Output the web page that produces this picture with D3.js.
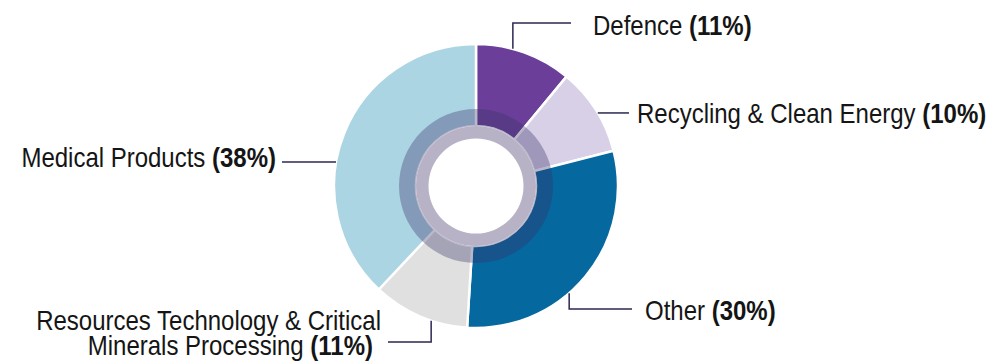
<!DOCTYPE html>
<html>
<head>
<meta charset="utf-8">
<script src="https://cdn.jsdelivr.net/npm/d3@7"></script>
<style>
  html, body { margin: 0; padding: 0; background: #ffffff; }
  svg { display: block; }
  text { font-family: "Liberation Sans", Arial, sans-serif; fill: #151515; }
</style>
</head>
<body>
<svg id="chart" width="998" height="362"></svg>
<script>
// ---- data ----
const categories = ["Defence", "Recycling & Clean Energy", "Other", "Resources Technology & Critical Minerals Processing", "Medical Products"];
const values = [11, 10, 30, 11, 38];
const colors = ["#6b3f99", "#d8d0e7", "#05689f", "#e0e0e0", "#acd5e4"];

// label text lines (name parts) per category
const labelLines = [
  ["Defence"],
  ["Recycling & Clean Energy"],
  ["Other"],
  ["Resources Technology & Critical", "Minerals Processing"],
  ["Medical Products"]
];

// ---- layout ----
const W = 998, H = 362;
const cx = 476, cy = 186;
const rOuter = 142, rInner = 60, rOverlay = 77, rHole = 47.5;
const fontSize = 28.5;
const squeeze = 0.842; // emulate a narrow typeface

const svg = d3.select("#chart");
const g = svg.append("g").attr("transform", `translate(${cx},${cy})`);

const pie = d3.pie().sort(null).value(d => d);
const arcs = pie(values);
const arc = d3.arc().innerRadius(rInner).outerRadius(rOuter);

g.selectAll("path.slice")
  .data(arcs)
  .enter().append("path")
  .attr("class", "slice")
  .attr("d", arc)
  .attr("fill", (d, i) => colors[i])
  .attr("stroke", "#ffffff")
  .attr("stroke-width", 2.5)
  .attr("stroke-linejoin", "miter");

// translucent dark ring
g.append("path")
  .attr("d", d3.arc().innerRadius(rInner).outerRadius(rOverlay).startAngle(0).endAngle(2 * Math.PI)())
  .attr("fill", "rgb(55,48,102)")
  .attr("fill-opacity", 0.35);

// light inner ring
g.append("path")
  .attr("d", d3.arc().innerRadius(rHole).outerRadius(rInner).startAngle(0).endAngle(2 * Math.PI)())
  .attr("fill", "#b8b2c6");

// ---- labels with leader lines ----
const labelLayout = [
  { frac: 0.38, path: (p) => [[p[0], p[1]], [p[0], 23 - cy], [571 - cx, 23 - cy]], tx: [593], ty: [35], anchor: "start" },
  { frac: 0.54, path: (p) => [[p[0], p[1]], [629 - cx, p[1]]], tx: [637], ty: [123], anchor: "start" },
  { frac: 0.587, path: (p) => [[p[0], p[1]], [p[0], 309 - cy], [632 - cx, 309 - cy]], tx: [645], ty: [320], anchor: "start" },
  { frac: 0.374, path: (p) => [[p[0], p[1]], [p[0], 342 - cy], [388 - cx, 342 - cy]], tx: [381, 373], ty: [330, 355], anchor: "end" },
  { frac: 0.413, path: (p) => [[p[0], p[1]], [282 - cx, p[1]]], tx: [276], ty: [167], anchor: "end" }
];

const lineGen = d3.line();
arcs.forEach((a, i) => {
  const L = labelLayout[i];
  const ang = a.startAngle + (a.endAngle - a.startAngle) * L.frac;
  const p = [rOuter * Math.sin(ang), -rOuter * Math.cos(ang)];
  g.append("path")
    .attr("d", lineGen(L.path(p)))
    .attr("fill", "none")
    .attr("stroke", "#2b2850")
    .attr("stroke-width", 1.5);

  const lines = labelLines[i];
  lines.forEach((ln, j) => {
    const last = j === lines.length - 1;
    const t = svg.append("text")
      .attr("transform", `translate(${L.tx[j]},${L.ty[j]}) scale(${squeeze},1)`)
      .attr("text-anchor", L.anchor)
      .attr("font-size", fontSize);
    t.append("tspan").text(ln);
    if (last) {
      t.append("tspan").text(" ");
      t.append("tspan").attr("font-weight", "bold").text(`(${values[i]}%)`);
    }
  });
});
</script>
</body>
</html>
